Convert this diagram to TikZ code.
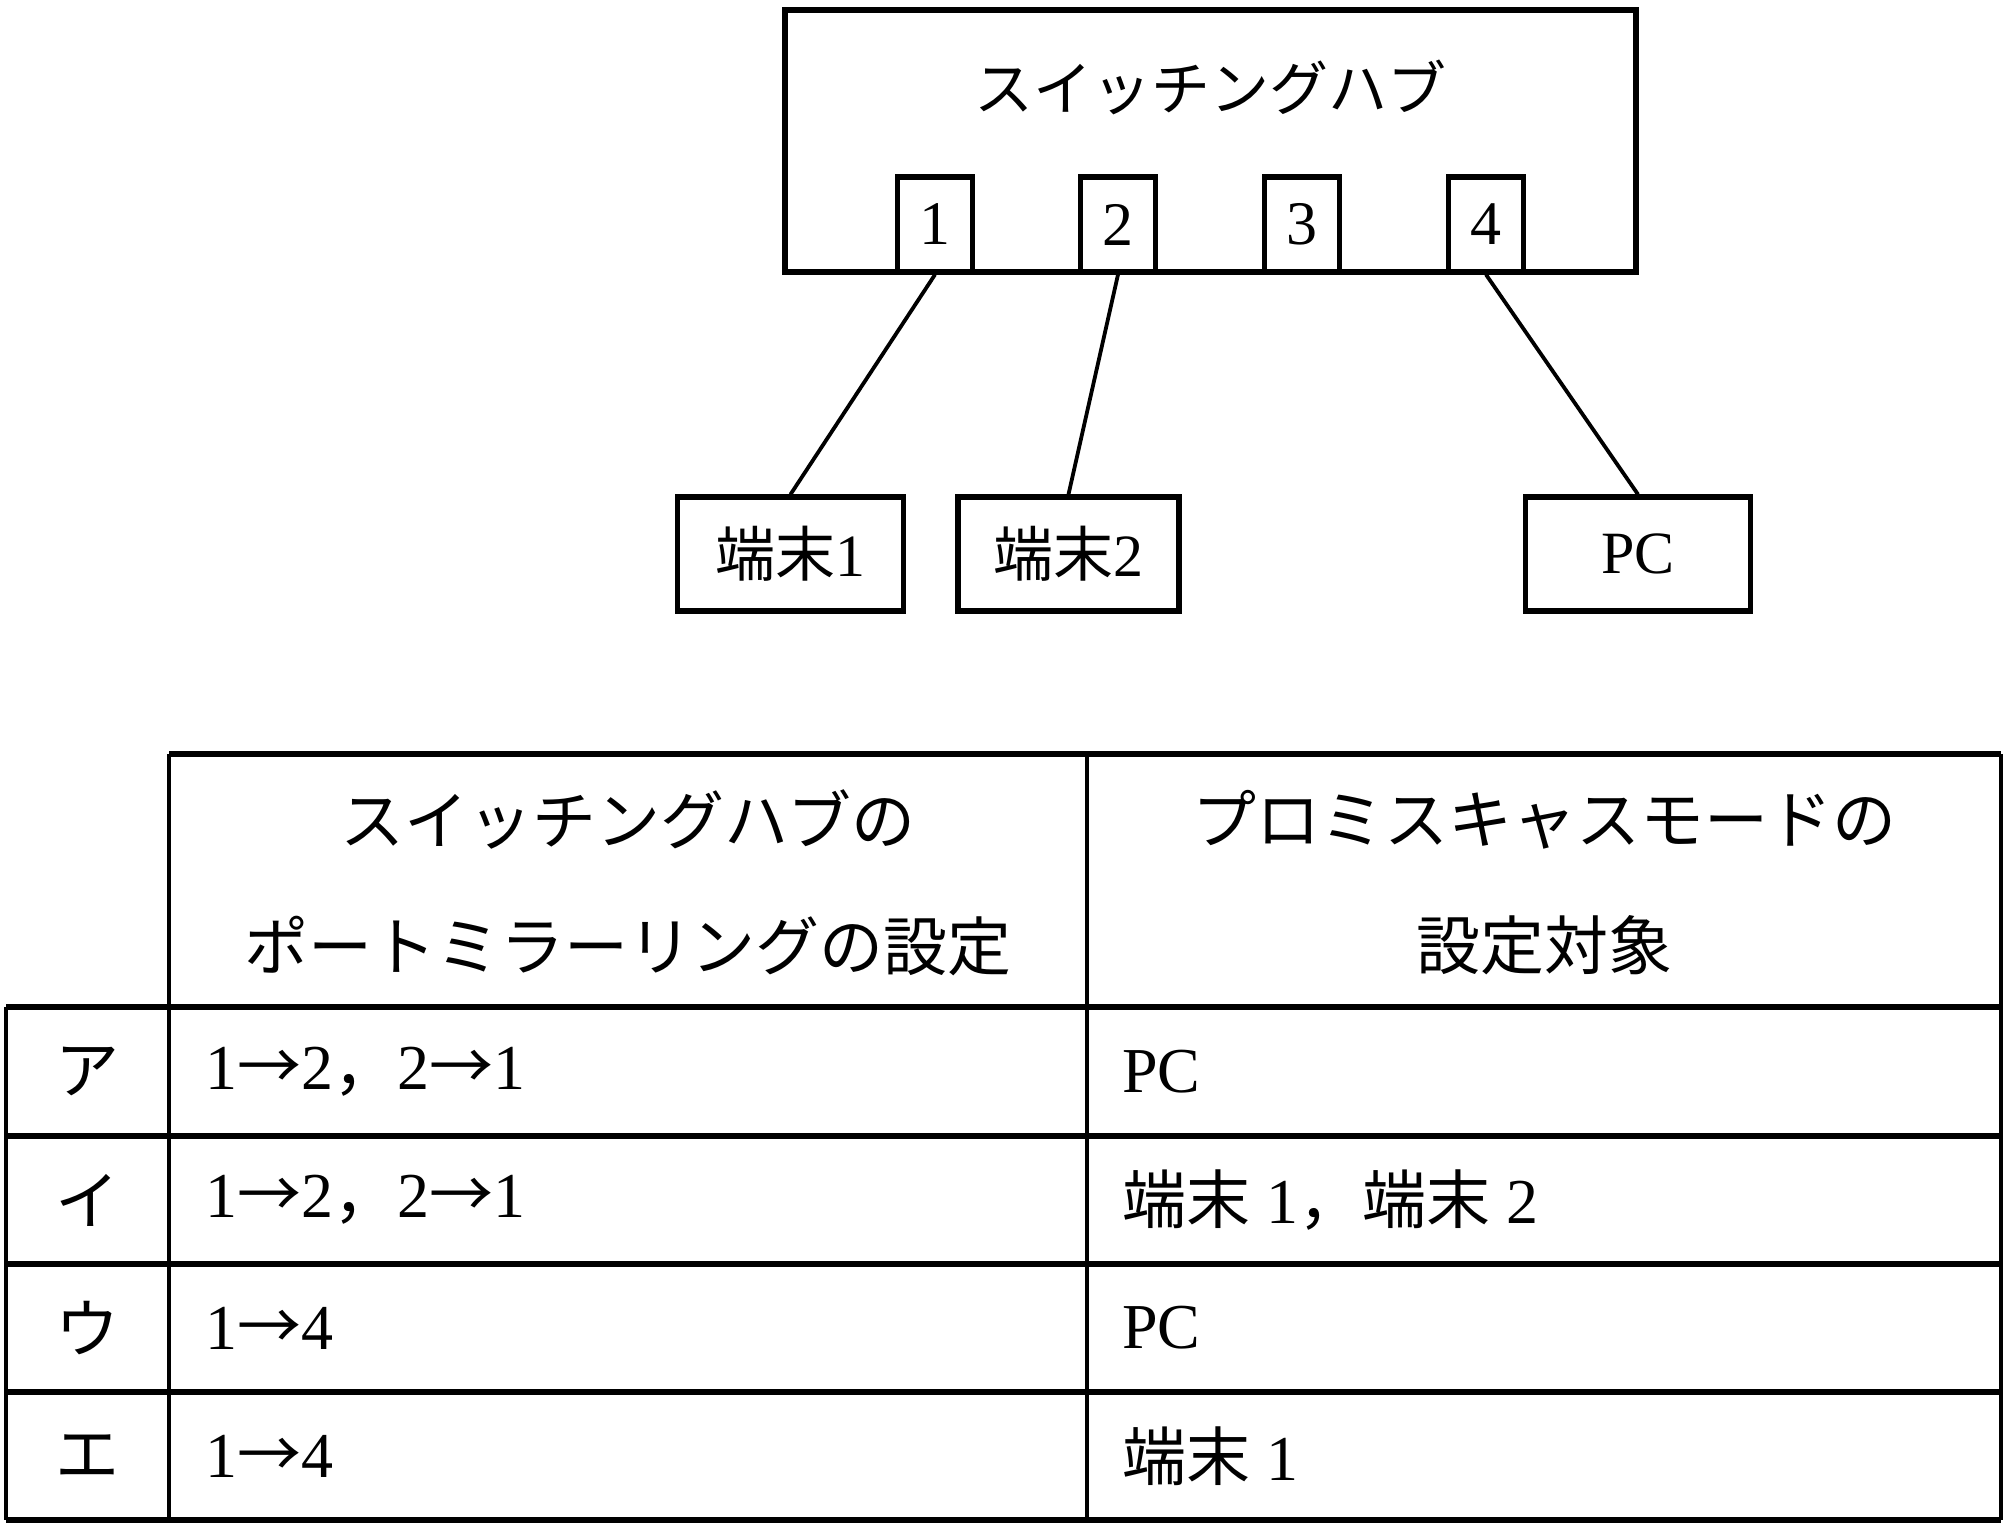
\documentclass[tikz,border=0pt]{standalone}
\usepackage{fontspec}
\setmainfont{Liberation Serif}
\newfontfamily\jpfont{Noto Sans CJK JP}
\newcommand{\jp}[1]{{\jpfont #1}}

\begin{document}
\begin{tikzpicture}[
  x=0.5pt, y=-0.5pt,
  box/.style={draw, line width=2.6pt, inner sep=0pt},
  port/.style={box, minimum width=37.5pt, minimum height=47.5pt,
    font=\fontsize{31}{36}\selectfont},
  host/.style={box, minimum height=57pt,
    font=\fontsize{30}{36}\selectfont},
  cable/.style={line width=1.9pt},
  hrule/.style={line width=3pt},
  vrule/.style={line width=1.9pt},
  head/.style={align=center, inner sep=0pt,
    font=\jpfont\fontsize{32}{63}\selectfont},
  cell/.style={anchor=west, inner sep=0pt,
    font=\fontsize{32}{38}\selectfont},
  rowlabel/.style={inner sep=0pt, font=\jpfont\fontsize{32}{38}\selectfont},
  ]
  \useasboundingbox (0,0) rectangle (2010,1528);
  % Switching hub
  \node[box, minimum width=425.5pt, minimum height=131pt] (hub) at (1210.5,141) {};
  \node[font=\jpfont\fontsize{29.5}{36}\selectfont] (hubname) at (1210,87) {スイッチングハブ};
  \foreach \i/\x in {1/935,2/1118,3/1302,4/1486}
    \node[port] (p\i) at (\x,224.5) {\i};
  % Hosts
  \node[host, minimum width=113pt] (t1) at (790.5,554) {\jp{端末}1};
  \node[host, minimum width=110.5pt] (t2) at (1068.5,554) {\jp{端末}2};
  \node[host, minimum width=112.5pt] (pc) at (1638,554) {PC};
  % Cables
  \draw[cable] (p1.south) -- (t1.north);
  \draw[cable] (p2.south) -- (t2.north);
  \draw[cable] (p4.south) -- (pc.north);
  % Table rules
  \draw[hrule] (169,754) -- (2001,754);
  \foreach \y in {1007,1136,1264,1392,1520}
    \draw[hrule] (6,\y) -- (2001,\y);
  \draw[vrule] (6,1007) -- (6,1520);
  \foreach \x in {169,1087,2001}
    \draw[vrule] (\x,754) -- (\x,1520);
  % Header
  \node[head] (h1) at (628,883) {スイッチングハブの\\ポートミラーリングの設定};
  \node[head] (h2) at (1544,883) {プロミスキャスモードの\\設定対象};
  % Rows
  \node[rowlabel] (ra) at (87.5,1071.5) {ア};
  \node[rowlabel] (ri) at (87.5,1200) {イ};
  \node[rowlabel] (ru) at (87.5,1328) {ウ};
  \node[rowlabel] (re) at (87.5,1456.5) {エ};
  \node[cell] (ma) at (205,1071.5) {1\jp{→}2\jp{，}2\jp{→}1};
  \node[cell] (mi) at (205,1200) {1\jp{→}2\jp{，}2\jp{→}1};
  \node[cell] (mu) at (205,1328) {1\jp{→}4};
  \node[cell] (me) at (205,1456.5) {1\jp{→}4};
  \node[cell] (sa) at (1122,1071.5) {PC};
  \node[cell] (si) at (1122,1200) {\jp{端末} 1\jp{，}\jp{端末} 2};
  \node[cell] (su) at (1122,1328) {PC};
  \node[cell] (se) at (1122,1456.5) {\jp{端末} 1};
\end{tikzpicture}
\end{document}
